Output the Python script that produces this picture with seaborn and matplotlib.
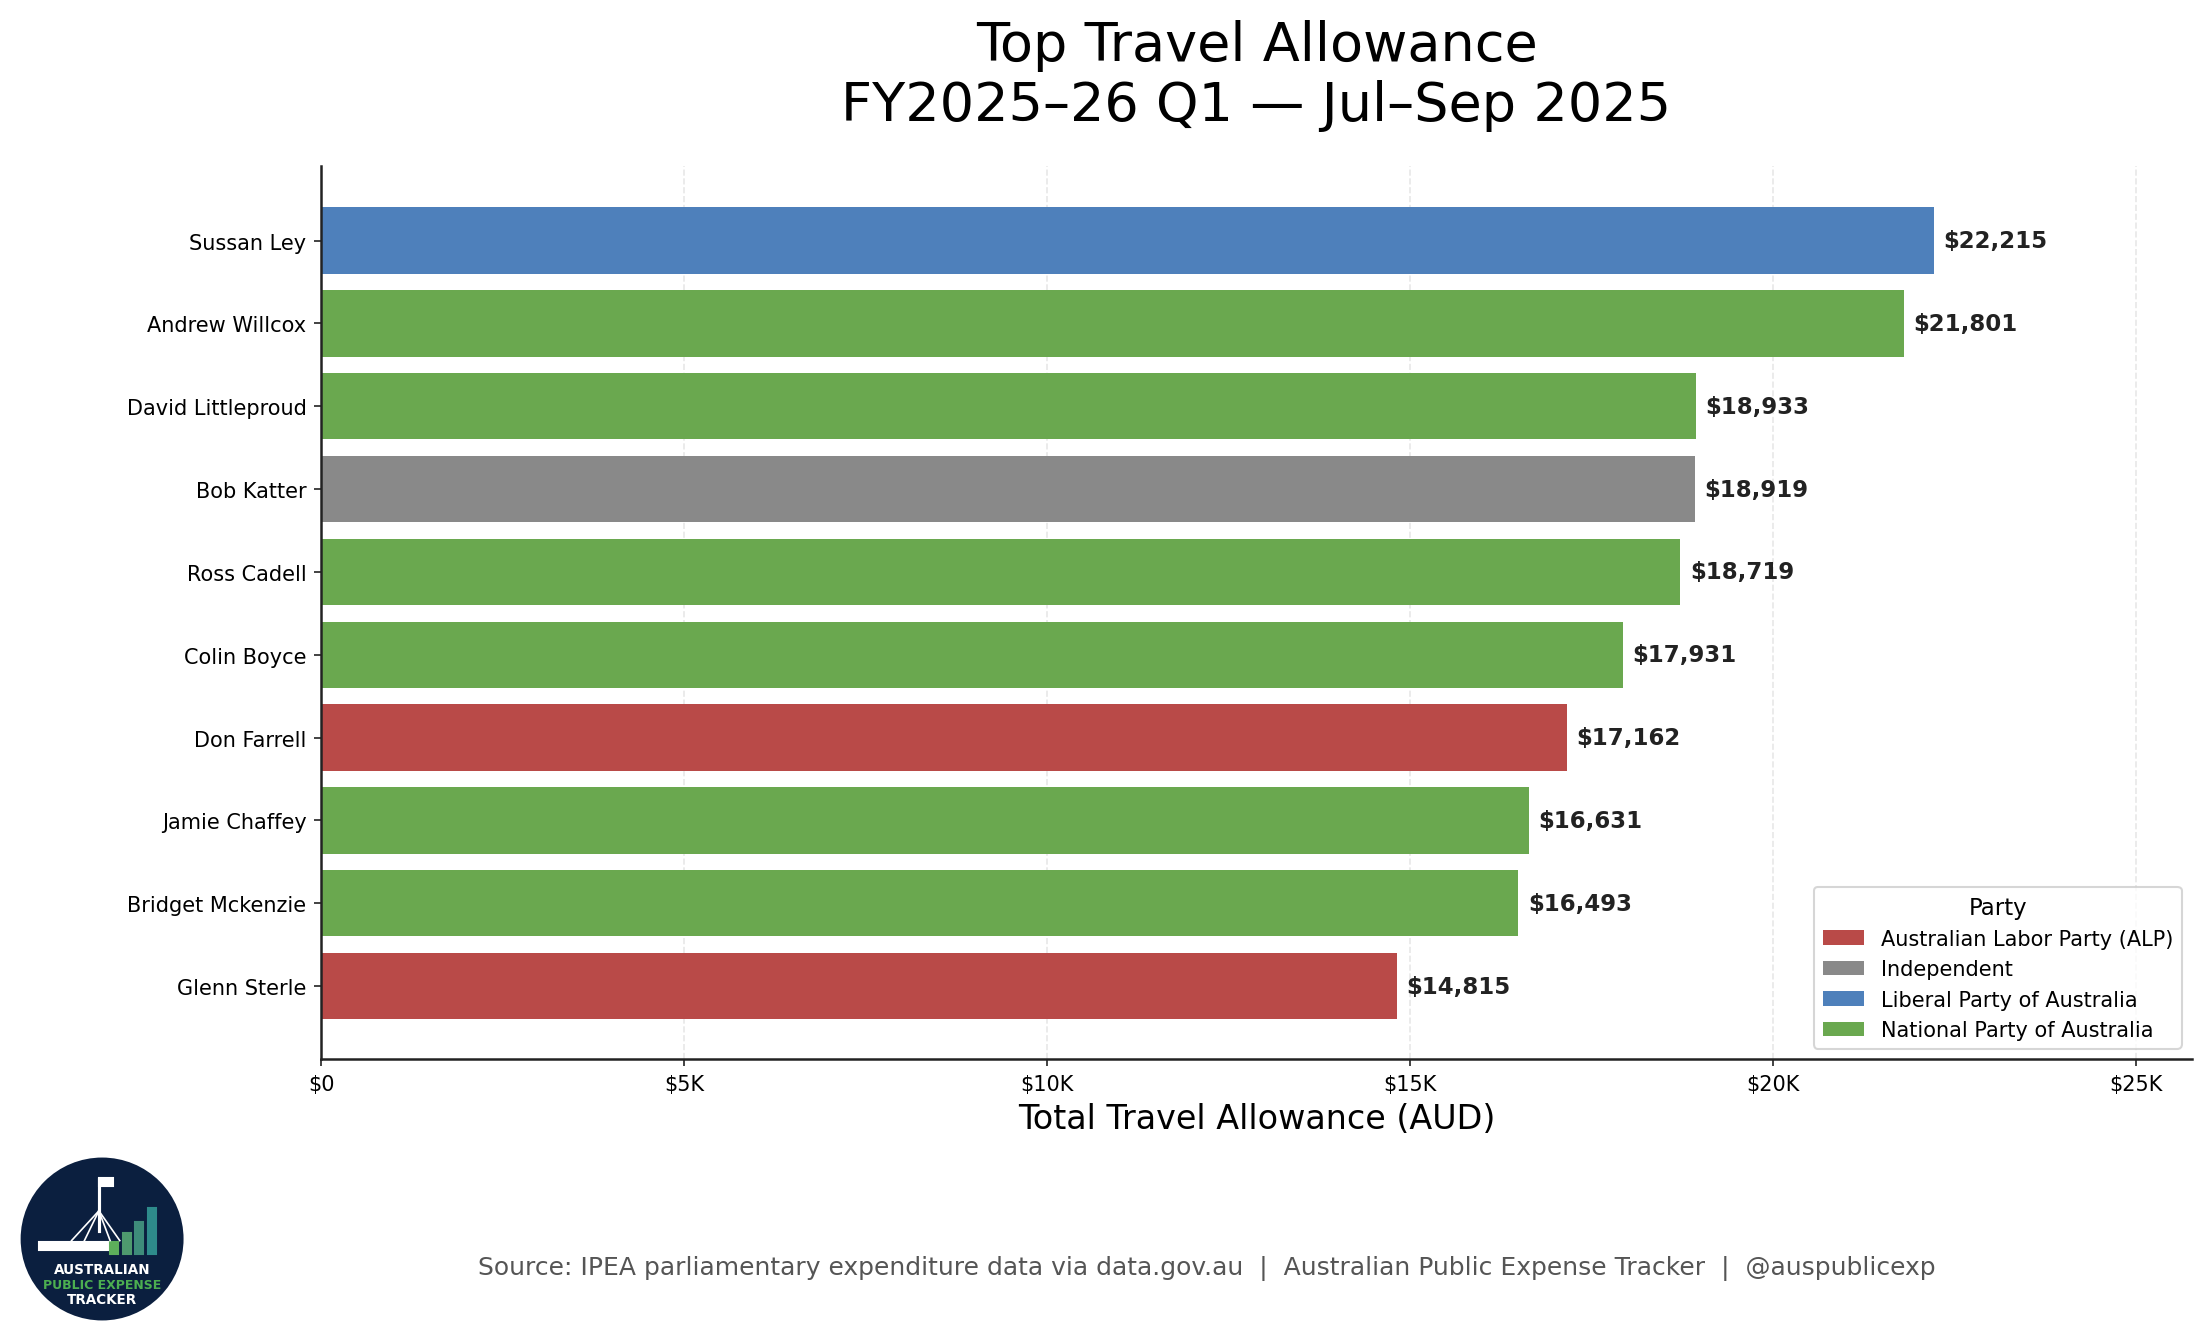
import numpy as np
import pandas as pd
import seaborn as sns
import matplotlib.pyplot as plt
from matplotlib.patches import Circle, Rectangle
from matplotlib.ticker import FuncFormatter

# data
names = ["Sussan Ley", "Andrew Willcox", "David Littleproud", "Bob Katter",
         "Ross Cadell", "Colin Boyce", "Don Farrell", "Jamie Chaffey",
         "Bridget Mckenzie", "Glenn Sterle"]
amounts = [22215, 21801, 18933, 18919, 18719, 17931, 17162, 16631, 16493, 14815]
parties = ["Liberal Party of Australia", "National Party of Australia",
           "National Party of Australia", "Independent",
           "National Party of Australia", "National Party of Australia",
           "Australian Labor Party (ALP)", "National Party of Australia",
           "National Party of Australia", "Australian Labor Party (ALP)"]

party_colors = {
    "Australian Labor Party (ALP)": "#B94A48",
    "Independent": "#898989",
    "Liberal Party of Australia": "#4E80BB",
    "National Party of Australia": "#6AA84F",
}

df = pd.DataFrame({"Member": names, "Total": amounts, "Party": parties})

plt.rcParams['font.family'] = ['DejaVu Sans']

fig = plt.figure(figsize=(14.7, 8.9133), dpi=150)
ax = fig.add_axes([0.1456, 0.2072, 0.8485, 0.6679])

sns.barplot(data=df, x="Total", y="Member", hue="Party",
            hue_order=sorted(party_colors), palette=party_colors,
            dodge=False, width=0.8, saturation=1, ax=ax)

vmax = df["Total"].max()
ax.set_xlim(0, vmax * 1.16)
ax.set_ylim(9.88, -0.9)

for i, v in enumerate(df["Total"]):
    ax.text(v + vmax * 0.006, i, f"${v:,.0f}", va="center", ha="left",
            fontsize=11, fontweight="bold", color="#222222")

ax.xaxis.set_major_formatter(FuncFormatter(lambda x, p: "$0" if x == 0 else f"${x/1000:.0f}K"))
ax.set_xticks([0, 5000, 10000, 15000, 20000, 25000])
ax.tick_params(axis="x", labelsize=10, color="#222222")
ax.tick_params(axis="y", labelsize=10, color="#222222")
ax.set_ylabel("")
ax.set_xlabel("Total Travel Allowance (AUD)", fontsize=16)
ax.grid(axis="x", linestyle="--", color="#dddddd", alpha=0.7)
ax.set_axisbelow(True)
for s in ["top", "right"]:
    ax.spines[s].set_visible(False)
for s in ["left", "bottom"]:
    ax.spines[s].set_color("#222222")
    ax.spines[s].set_linewidth(1.2)

ax.set_title("Top Travel Allowance\nFY2025\u201326 Q1 \u2014 Jul\u2013Sep 2025",
             fontsize=26, pad=22)
ax.legend(title="Party", loc="lower right", fontsize=10, title_fontsize=11)

fig.text(0.5475, 0.0515,
         "Source: IPEA parliamentary expenditure data via data.gov.au  |  "
         "Australian Public Expense Tracker  |  @auspublicexp",
         ha="center", va="center", fontsize=12, color="#555555")

# logo badge
lg = fig.add_axes([0.0091, 0.0112, 0.0744, 0.1227])
lg.set_xlim(-1.02, 1.02)
lg.set_ylim(-1.02, 1.02)
lg.set_aspect("equal")
lg.axis("off")
lg.add_patch(Circle((0, 0), 1, color="#0B1F3F"))
lg.plot([-0.04, -0.04], [0.1, 0.75], color="white", lw=1.5)
lg.add_patch(Rectangle((-0.04, 0.66), 0.17, 0.1, color="white"))
for xe in [-0.38, -0.22, 0.1, 0.22]:
    lg.plot([-0.04, xe], [0.35, -0.02], color="white", lw=0.8)
lg.add_patch(Rectangle((-0.78, -0.14), 0.85, 0.1, color="white"))
bar_x = [0.1, 0.26, 0.41, 0.57]
bar_top = [-0.04, 0.08, 0.21, 0.38]
bar_col = ["#5DAE5B", "#4E9A6E", "#3E8C7A", "#2E8B8B"]
for bx, bt, bc in zip(bar_x, bar_top, bar_col):
    lg.add_patch(Rectangle((bx, -0.185), 0.1, bt + 0.185, color=bc))
lg.text(0, -0.37, "AUSTRALIAN", ha="center", va="center", color="white",
        fontsize=6.5, fontweight="bold")
lg.text(0, -0.56, "PUBLIC EXPENSE", ha="center", va="center", color="#4CAF50",
        fontsize=6, fontweight="bold")
lg.text(0, -0.75, "TRACKER", ha="center", va="center", color="white",
        fontsize=6.5, fontweight="bold")

fig.savefig("out.png", dpi=150)
